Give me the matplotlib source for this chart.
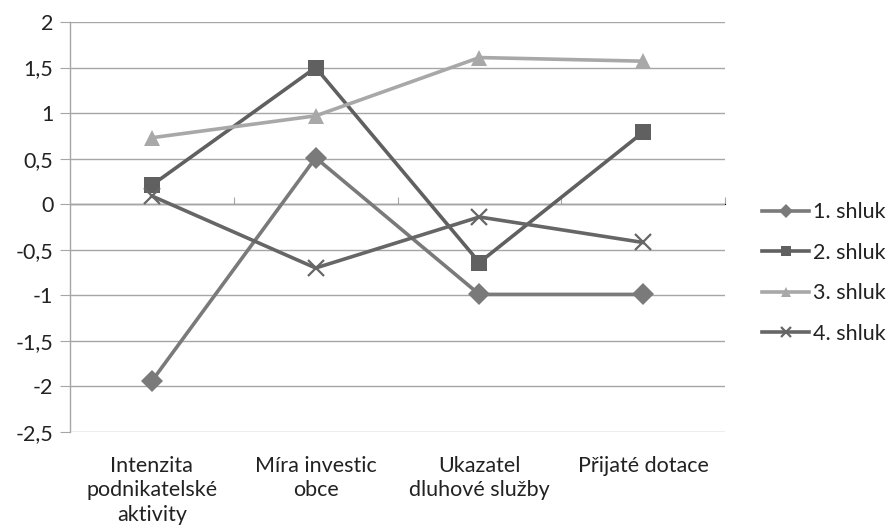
import matplotlib
matplotlib.use("Agg")
import matplotlib.pyplot as plt
from matplotlib.ticker import MultipleLocator, FuncFormatter

plt.rcParams['font.family'] = ['Lato', 'DejaVu Sans']

categories = ["Intenzita\npodnikatelské\naktivity", "Míra investic\nobce",
              "Ukazatel\ndluhové služby", "Přijaté dotace"]
series_names = ["1. shluk", "2. shluk", "3. shluk", "4. shluk"]
s1 = [-1.94, 0.51, -0.99, -0.99]
s2 = [0.21, 1.50, -0.64, 0.79]
s3 = [0.73, 0.97, 1.61, 1.57]
s4 = [0.09, -0.70, -0.14, -0.42]

colors = ["#7a7a7a", "#606060", "#a8a8a8", "#666666"]
markers = ["D", "s", "^", "x"]
msizes = [11, 12, 12, 11]

FS = 15.5
fig = plt.figure(figsize=(8.87, 5.29), dpi=100)
ax = fig.add_axes([0.0790, 0.1834, 0.7383, 0.7750])

x = list(range(len(categories)))
for vals, name, c, m, ms in zip([s1, s2, s3, s4], series_names, colors, markers, msizes):
    kw = dict(markeredgewidth=1.6) if m == "x" else dict(markeredgewidth=0)
    ax.plot(x, vals, color=c, lw=2.6, marker=m, markersize=ms,
            markerfacecolor=c, markeredgecolor=c, label=name, zorder=3, **kw)

ax.set_xlim(-0.5, 3.5)
ax.set_ylim(-2.5, 2)
ax.yaxis.set_major_locator(MultipleLocator(0.5))
ax.yaxis.set_major_formatter(FuncFormatter(lambda v, p: ('%g' % v).replace('.', ',')))
ax.grid(axis='y', color='#a6a6a6', lw=1)
ax.set_axisbelow(True)

for s in ['top', 'right', 'bottom']:
    ax.spines[s].set_visible(False)
ax.spines['left'].set_color('#a6a6a6')
ax.spines['left'].set_linewidth(1)
ax.tick_params(axis='y', length=7, color='#a6a6a6', labelsize=FS, labelcolor='#222222', pad=5)

ax.set_xticks(x)
ax.set_xticklabels(categories, fontsize=FS, color='#222222', linespacing=1.3)
ax.tick_params(axis='x', length=0, pad=17)

# category axis at y = 0
ax.axhline(0, color='#a6a6a6', lw=1, zorder=1)
sec = ax.secondary_xaxis(2.5 / 4.5)
sec.set_xticks([0.5, 1.5, 2.5, 3.5])
sec.set_xticklabels([])
sec.tick_params(length=5, color='#a6a6a6', direction='out')
sec.spines['bottom'].set_visible(False)

handles, labels = ax.get_legend_handles_labels()
leg = fig.legend(handles, labels, loc='center left', bbox_to_anchor=(0.859, 0.484),
                 frameon=False, fontsize=FS, handlelength=2.2, handletextpad=0.15,
                 labelspacing=0.95, markerscale=0.65, borderpad=0, borderaxespad=0)
for t in leg.get_texts():
    t.set_color('#222222')

fig.savefig("out.png", dpi=100)
